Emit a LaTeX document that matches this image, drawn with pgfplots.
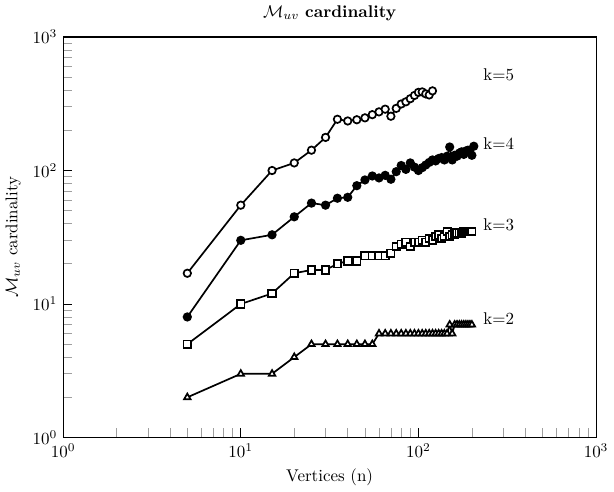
\documentclass[border=0pt]{standalone}
\usepackage{pgfplots}
\pgfplotsset{compat=1.18}
\begin{document}
\begin{tikzpicture}
\begin{axis}[
  scale only axis, width=314pt, height=236pt,
  xmode=log, ymode=log,
  xmin=1, xmax=1000, ymin=1, ymax=1000,
  tick pos=left, tick align=inside,
  major tick length=5.5pt, minor tick length=5.5pt,
  minor tick style={gray!75, line width=0.4pt},
  major tick style={black, line width=0.6pt},
  axis line style={line width=0.6pt},
  title={$\mathcal{M}_{uv}$ \textbf{cardinality}},
  xlabel={Vertices (n)},
  ylabel={$\mathcal{M}_{uv}$ cardinality},
  every axis plot/.append style={black, line width=1pt, mark size=2.2pt,
    mark options={line width=0.35pt, solid}},
  clip=false,
]
% k=5
\addplot[mark=*, mark options={fill=white}] coordinates {
(5,17)(10,55)(15,100)(20,114)(25,142)(30,177)(35,242)(40,235)(45,240)(50,248)
(55,262)(60,275)(65,288)(70,255)(75,292)(80,315)(85,327)(90,345)(95,365)(100,385)
(105,388)(110,375)(115,368)(120,395)};
% k=4
\addplot[mark=*, mark options={fill=black}] coordinates {
(5,8)(10,30)(15,33)(20,45)(25,57)(30,55)(35,62)(40,63)(45,77)(50,85)
(55,91)(60,88)(65,92)(70,86)(75,98)(80,109)(85,102)(90,114)(95,106)(100,100)
(105,105)(110,110)(115,115)(120,120)(125,118)(130,123)(135,125)(140,120)(145,128)(150,150)
(155,120)(160,130)(165,128)(170,135)(175,138)(180,132)(185,140)(190,142)(195,136)(200,130)(205,152)};
% k=3
\addplot[mark=square*, mark options={fill=white}] coordinates {
(5,5)(10,10)(15,12)(20,17)(25,18)(30,18)(35,20)(40,21)(45,21)(50,23)
(55,23)(60,23)(65,23)(70,24)(75,27)(80,28)(85,29)(90,27)(95,29)(100,29)
(105,30)(110,29)(115,31)(120,30)(125,32)(130,33)(135,31)(140,32)(145,35)(150,32)
(155,33)(160,33)(165,34)(170,34)(175,34)(180,35)(185,35)(190,35)(195,35)(200,35)};
% k=2
\addplot[mark=triangle*, mark options={fill=white}] coordinates {
(5,2)(10,3)(15,3)(20,4)(25,5)(30,5)(35,5)(40,5)(45,5)(50,5)
(55,5)(60,6)(65,6)(70,6)(75,6)(80,6)(85,6)(90,6)(95,6)(100,6)
(105,6)(110,6)(115,6)(120,6)(125,6)(130,6)(135,6)(140,6)(145,6)(150,7)
(155,6)(160,7)(165,7)(170,7)(175,7)(180,7)(185,7)(190,7)(195,7)(200,7)};
\node[anchor=west] at (axis cs:215,520) {k=5};
\node[anchor=west] at (axis cs:215,158) {k=4};
\node[anchor=west] at (axis cs:215,39) {k=3};
\node[anchor=west] at (axis cs:215,7.8) {k=2};
\end{axis}
\end{tikzpicture}
\end{document}
